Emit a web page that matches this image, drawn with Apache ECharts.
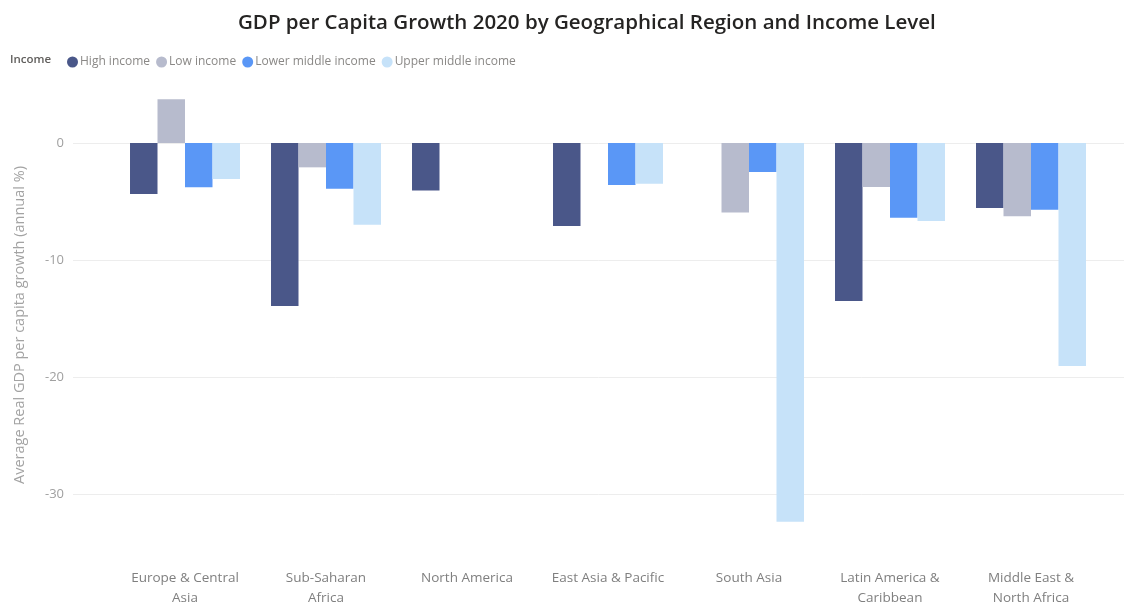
<!DOCTYPE html>
<html>
<head>
<meta charset="utf-8">
<script src="https://cdn.jsdelivr.net/npm/echarts@6/dist/echarts.min.js"></script>
<style>
  html, body { margin: 0; padding: 0; background: #ffffff; }
  #chart { width: 1126px; height: 605px; }
</style>
</head>
<body>
<div id="chart"></div>
<script>
// Regions on the category axis
const regions = ['Europe & Central Asia', 'Sub-Saharan Africa', 'North America', 'East Asia & Pacific', 'South Asia', 'Latin America & Caribbean', 'Middle East & North Africa'];
// Wrapped tick labels for the regions
const regionTickLabels = ['Europe & Central\nAsia', 'Sub-Saharan\nAfrica', 'North America', 'East Asia & Pacific', 'South Asia', 'Latin America &\nCaribbean', 'Middle East &\nNorth Africa'];

// Income groups (series)
const incomeGroups = ['High income', 'Low income', 'Lower middle income', 'Upper middle income'];

// Average real GDP per capita growth, 2020 (annual %), null = no countries in group
const highIncome        = [-4.36, -13.93, -4.05, -7.09, null, -13.50, -5.56];
const lowIncome         = [3.73, -2.08, null, null, -5.95, -3.76, -6.27];
const lowerMiddleIncome = [-3.79, -3.90, null, -3.60, -2.48, -6.38, -5.70];
const upperMiddleIncome = [-3.08, -6.98, null, -3.48, -32.37, -6.67, -19.06];

// Value axis range and tick labels
const yMin = -35;
const yMax = 5;
const yTicks = [0, -10, -20, -30];

const seriesValues = [highIncome, lowIncome, lowerMiddleIncome, upperMiddleIncome];
const colors = ['#4A5789', '#B7BBCD', '#5A97F6', '#C6E2F9'];

const FONT = '"Open Sans", "Noto Sans", sans-serif';
const chart = echarts.init(document.getElementById('chart'), null, { renderer: 'canvas' });

const gridTop = 84.5;
const gridBottom = 52.5;

chart.setOption({
  backgroundColor: '#ffffff',
  animation: false,
  color: colors,
  title: {
    text: 'GDP per Capita Growth 2020 by Geographical Region and Income Level',
    left: 233,
    top: 8,
    textStyle: { fontFamily: FONT, fontSize: 20.5, fontWeight: 600, color: '#252423' }
  },
  graphic: [
    {
      type: 'text',
      left: 10,
      top: 54,
      style: { text: 'Income', fontFamily: FONT, fontSize: 11.5, fontWeight: 600, fill: '#605E5C' }
    },
    {
      // value axis title, rotated
      type: 'text',
      x: 20,
      y: 325,
      rotation: Math.PI / 2,
      style: {
        text: 'Average Real GDP per capita growth (annual %)',
        fontFamily: FONT, fontSize: 14.5, fill: '#A3A3A3',
        align: 'center', verticalAlign: 'middle'
      }
    }
  ],
  legend: {
    data: incomeGroups,
    left: 62,
    top: 51,
    icon: 'circle',
    itemWidth: 11,
    itemHeight: 11,
    itemGap: 6,
    textStyle: { fontFamily: FONT, fontSize: 12, color: '#8A8886', padding: [0, 0, 0, -3] }
  },
  grid: [
    // full-width grid carrying the value axis and its gridlines
    { left: 73, right: 2, top: gridTop, bottom: gridBottom, outerBoundsMode: 'none' },
    // inner grid carrying the region bars
    { left: 114.5, right: 24.5, top: gridTop, bottom: gridBottom, outerBoundsMode: 'none' }
  ],
  xAxis: [
    { gridIndex: 0, type: 'value', show: false },
    {
      gridIndex: 1,
      type: 'category',
      data: regions,
      axisLine: { show: false },
      axisTick: { show: false },
      axisLabel: {
        interval: 0,
        margin: 16,
        lineHeight: 20,
        fontFamily: FONT,
        fontSize: 13.5,
        color: '#7F7F7F',
        formatter: (v, i) => regionTickLabels[i]
      }
    }
  ],
  yAxis: [
    {
      gridIndex: 0,
      type: 'value',
      min: yMin,
      max: yMax,
      splitNumber: 4,
      axisLine: { show: false },
      axisTick: { show: false },
      axisLabel: {
        margin: 9,
        showMinLabel: false,
        showMaxLabel: false,
        fontFamily: FONT,
        fontSize: 13,
        color: '#A0A0A0',
        formatter: v => (yTicks.indexOf(v) >= 0 ? String(v) : '')
      },
      splitLine: { show: true, showMinLine: false, showMaxLine: false, lineStyle: { color: '#EDEDED', width: 1 } }
    },
    {
      gridIndex: 1,
      type: 'value',
      min: yMin,
      max: yMax,
      show: false,
      splitLine: { show: false }
    }
  ],
  series: incomeGroups.map((name, i) => ({
    name: name,
    type: 'bar',
    xAxisIndex: 1,
    yAxisIndex: 1,
    barGap: '0%',
    barCategoryGap: '22%',
    itemStyle: { color: colors[i] },
    data: seriesValues[i]
  }))
});
</script>
</body>
</html>
